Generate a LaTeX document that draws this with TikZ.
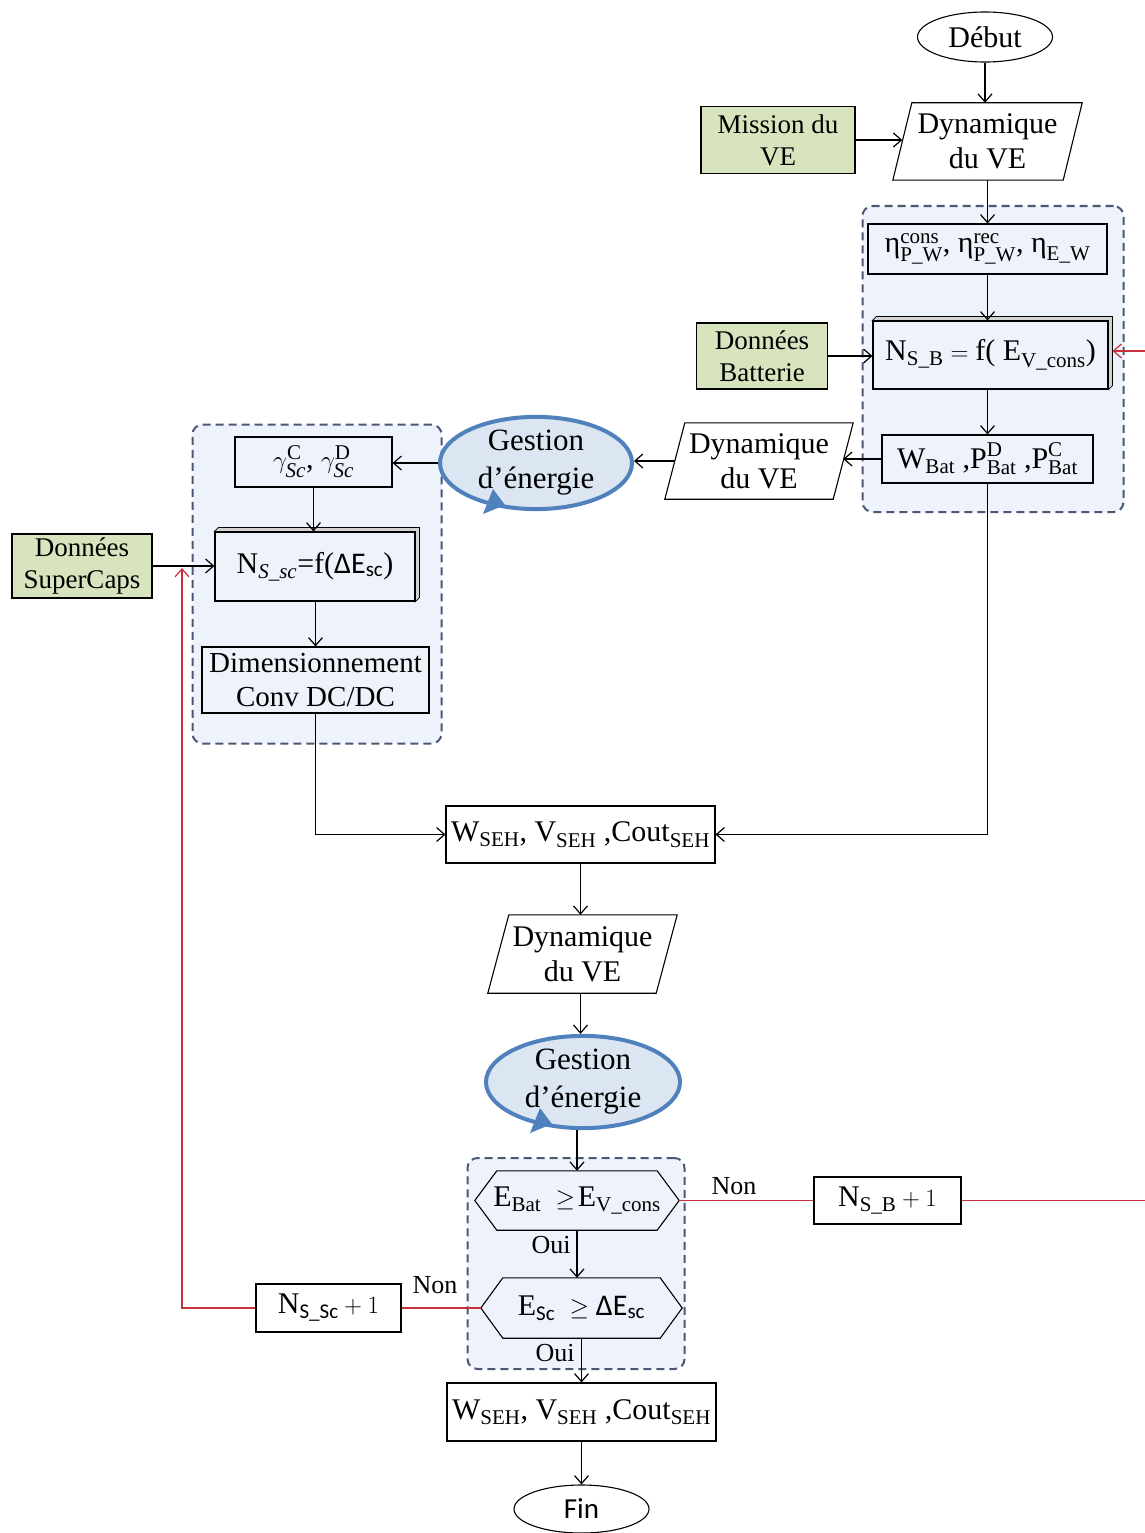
\documentclass[tikz,border=0pt]{standalone}
\usepackage{amsmath}
\usepackage{fontspec}
\setmainfont{Liberation Serif}
\newfontfamily\sansf{Carlito}
\usetikzlibrary{arrows.meta,calc,shapes.geometric}
\definecolor{grn}{HTML}{D7E4BD}
\definecolor{cfill}{HTML}{EEF2FA}
\definecolor{cdraw}{HTML}{4B5875}
\definecolor{gfill}{HTML}{DCE6F2}
\definecolor{gdraw}{HTML}{4F81BD}
\definecolor{rl}{HTML}{C8303A}
\newcommand\paral[2]{\draw[bx] (#1.south west) -- ($(#1.north west)+(#2,0)$) -- (#1.north east) -- ($(#1.south east)+(-#2,0)$) -- cycle;}
\newcommand\hexa[2]{\draw[bx] (#1.west) -- ($(#1.north west)+(#2,0)$) -- ($(#1.north east)+(-#2,0)$) -- (#1.east) -- ($(#1.south east)+(-#2,0)$) -- ($(#1.south west)+(#2,0)$) -- cycle;}
\newcommand\bevel[1]{\draw[line width=0.8pt, fill=gray!35] (#1.north west) -- ++(4,-4) -- ($(#1.north east)+(4,-4)$) -- ($(#1.south east)+(4,-4)$) -- (#1.south east) -- (#1.north east) -- cycle;}
\newcommand\gesarrow[1]{\fill[gdraw] ($(#1.center)+(-53,51)$) -- ($(#1.center)+(-31,42)$) -- ($(#1.center)+(-43,26)$) -- cycle;}
\tikzset{
 sz/.style 2 args={minimum width=#1pt, minimum height=#2pt, inner sep=0pt},
 bx/.style={draw, line width=1.1pt},
 txt/.style={font=\fontsize{30}{35}\selectfont, align=center},
 gb/.style={bx, fill=grn, font=\fontsize{27}{32}\selectfont, align=center},
 cont/.style={draw=cdraw, fill=cfill, line width=2pt, dash pattern=on 8pt off 5pt, rounded corners=10pt},
 ges/.style={ellipse, draw=gdraw, fill=gfill, line width=4pt, font=\fontsize{31}{38}\selectfont, align=center, inner sep=0pt},
 term/.style={ellipse, draw, line width=1.1pt, inner sep=0pt},
 arr/.style={line width=1.1pt, -{Straight Barb[length=8pt,width=14pt,line width=1.2pt]}},
 rarr/.style={line width=1.2pt, color=rl, -{Straight Barb[length=8pt,width=14pt,line width=1.2pt]}},
 rln/.style={line width=1.2pt, color=rl},
 lab/.style={font=\fontsize{26}{30}\selectfont, inner sep=0pt},
}
\begin{document}
\begin{tikzpicture}[x=1pt,y=-1pt]
\useasboundingbox (0,0) rectangle (1144,1533);
% containers
\node[cont, sz={261}{306}] (c1) at (993,359) {};
\node[cont, sz={249}{319}] (c2) at (317,584) {};
\node[cont, sz={217}{211}] (c3) at (576,1263.5) {};
% nodes
\node[term, txt, minimum width=135pt, minimum height=50pt] (debut) at (985,37) {Début};
\node[txt, sz={189}{77}] (dyn1) at (987.5,141.5) {Dynamique\\du VE};
\paral{dyn1}{19}
\coordinate (dyn1l) at ($(dyn1.west)+(9.5,0)$);
\node[gb, sz={154}{67}] (mission) at (778,140) {Mission du\\VE};
\node[bx, txt, sz={239}{50}] (eta) at (987.5,249) {$\text{η}^{\text{cons}}_{\text{P\_W}}\text{, }\text{η}^{\text{rec}}_{\text{P\_W}}\text{, }\text{η}_{\text{E\_W}}$};
\node[bx, txt, sz={235}{68}] (nsb) at (990.5,355) {$\text{N}_{\text{S\_B}}=\text{f( E}_{\text{V\_cons}}\text{)}$};
\bevel{nsb}
\node[gb, sz={131}{66}] (batt) at (762,356) {Données\\Batterie};
\node[bx, txt, sz={211}{48}] (wbat) at (987.5,459) {$\text{W}_{\text{Bat}}\text{ ,P}^{\text{D}}_{\text{Bat}}\text{ ,P}^{\text{C}}_{\text{Bat}}$};
\node[txt, sz={188}{76}] (dyn2) at (759,461) {Dynamique\\du VE};
\paral{dyn2}{20}
\coordinate (dyn2l) at ($(dyn2.west)+(10,0)$);
\coordinate (dyn2r) at ($(dyn2.east)+(-10,0)$);
\node[ges, minimum width=192pt, minimum height=88pt] (ges1) at (536,463) {Gestion\\d’énergie};
\gesarrow{ges1}
\node[bx, txt, sz={157}{50}] (gam) at (313.5,462) {$\gamma^{\text{C}}_{\textit{Sc}}\text{, }\gamma^{\text{D}}_{\textit{Sc}}$};
\node[bx, txt, sz={200}{69}] (nssc) at (315,566.5) {$\text{N}_{\textit{S\_sc}}\text{=f(}\text{\sansf ΔE}_{\text{\sansf sc}}\text{)}$};
\bevel{nssc}
\node[gb, sz={140}{64}] (sup) at (82,566) {Données\\SuperCaps};
\node[bx, txt, font=\fontsize{29}{34}\selectfont, sz={227}{66}] (dim) at (315.5,680) {Dimensionnement\\Conv DC/DC};
\node[bx, txt, fill=white, sz={269}{57}] (wseh1) at (580.5,834.5) {$\text{W}_{\text{SEH}}\text{, V}_{\text{SEH}}\text{ ,Cout}_{\text{SEH}}$};
\node[txt, sz={189}{78}] (dyn3) at (582.5,954) {Dynamique\\du VE};
\paral{dyn3}{21}
\node[ges, minimum width=194pt, minimum height=87pt] (ges2) at (583,1082) {Gestion\\d’énergie};
\gesarrow{ges2}
\node[txt, sz={204}{59}] (hex1) at (577,1200.5) {$\text{E}_{\text{Bat}}\ \geq\!\text{E}_{\text{V\_cons}}$};
\hexa{hex1}{22}
\node[txt, sz={201}{60}] (hex2) at (581.5,1308) {$\text{E}_{\text{\sansf Sc}}\ \geq \text{\sansf ΔE}_{\text{\sansf sc}}$};
\hexa{hex2}{22}
\node[bx, txt, sz={147}{47}] (nsb1) at (887.5,1200.5) {$\text{N}_{\text{S\_B}}+1$};
\node[bx, txt, sz={145}{48}] (nssc1) at (328.5,1308) {$\text{N}_{\text{\sansf S\_Sc}}+1$};
\node[bx, txt, sz={269}{58}] (wseh2) at (581.5,1412) {$\text{W}_{\text{SEH}}\text{, V}_{\text{SEH}}\text{ ,Cout}_{\text{SEH}}$};
\node[term, font=\sansf\fontsize{29}{34}\selectfont, minimum width=135pt, minimum height=48pt] (fin) at (581.5,1509) {Fin};
% labels
\node[lab] (oui1) at (551,1245) {Oui};
\node[lab] (oui2) at (555,1353) {Oui};
\node[lab] (non1) at (734,1186) {Non};
\node[lab] (non2) at (435,1285) {Non};
% connectors
\draw[arr] (debut.south) -- (debut.south |- dyn1.north);
\draw[arr] (mission.east) -- (mission.east -| dyn1l);
\draw[arr] (dyn1.south) -- (eta.north);
\draw[arr] (eta.south) -- (eta.south |- nsb.north);
\draw[arr] (batt.east) -- (batt.east -| nsb.west);
\draw[arr] (wbat.north |- nsb.south) -- (wbat.north);
\draw[arr] (wbat.west) -- (wbat.west -| dyn2r);
\draw[arr] (dyn2l) -- (dyn2l -| ges1.east);
\draw[arr] (ges1.west) -- (ges1.west -| gam.east);
\draw[arr] (gam.south) -- (gam.south |- nssc.north);
\draw[arr] (sup.east) -- (sup.east -| nssc.west);
\draw[arr] (dim.north |- nssc.south) -- (dim.north);
\draw[arr] (dim.south) |- (wseh1.west);
\draw[arr] (wbat.south) |- (wseh1.east);
\draw[arr] (wseh1.south) -- (wseh1.south |- dyn3.north);
\draw[arr] (wseh1.south |- dyn3.south) -- (wseh1.south |- ges2.north);
\draw[arr] (hex1.north |- ges2.south) -- (hex1.north);
\draw[arr] (hex1.south) -- (hex1.south |- hex2.north);
\draw[arr] (hex2.south) -- (wseh2.north);
\draw[arr] (wseh2.south) -- (fin.north);
% red loops
\coordinate (rR) at (1152,1200.5);
\coordinate (rL) at (182,1308);
\draw[rln] (hex1.east) -- (nsb1.west);
\draw[rarr] (nsb1.east) -- (rR) -- ($(rR |- nsb.east)+(0,-4)$) -- ($(nsb.east)+(4,-4)$);
\draw[rln] (hex2.west) -- (nssc1.east);
\draw[rarr] (nssc1.west) -- (rL) -- ($(rL |- sup.east)+(0,2)$);
\end{tikzpicture}
\end{document}
